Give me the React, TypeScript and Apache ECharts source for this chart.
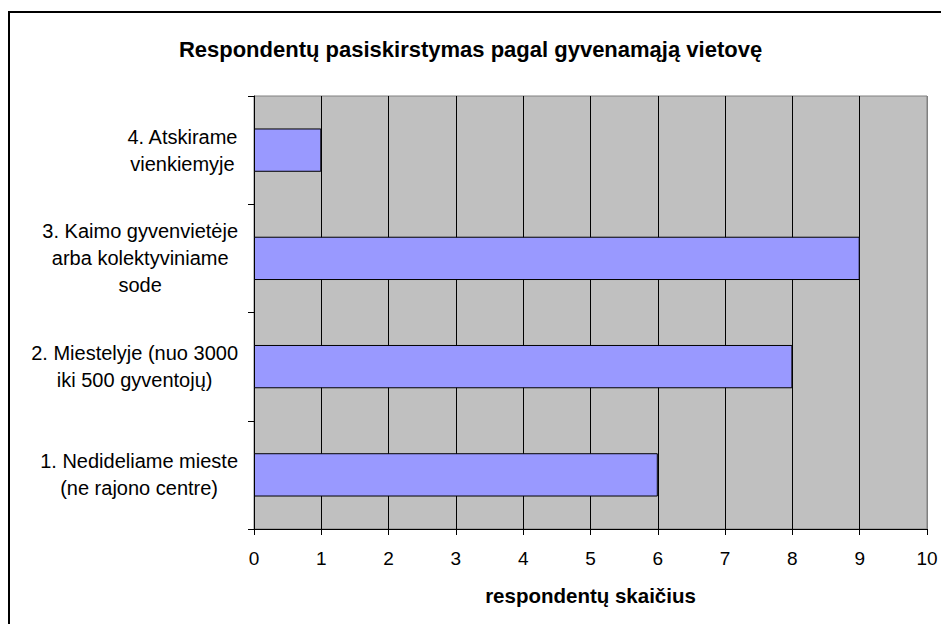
import React, { useEffect, useRef } from "react";
import * as echarts from "echarts";

const titleText = "Respondentų pasiskirstymas pagal gyvenamąją vietovę";
const xAxisTitle = "respondentų skaičius";
const categories = [
  "1. Nedideliame mieste\n(ne rajono centre)",
  "2. Miestelyje (nuo 3000\niki 500 gyventojų)",
  "3. Kaimo gyvenvietėje\narba kolektyviniame\nsode",
  "4. Atskirame\nvienkiemyje",
];
const values = [6, 8, 9, 1];
const xTicks = [0, 1, 2, 3, 4, 5, 6, 7, 8, 9, 10];

const FONT = "'Liberation Sans', Arial, sans-serif";

export default function App() {
  const ref = useRef<HTMLDivElement>(null);
  useEffect(() => {
    if (!ref.current) return;
    const chart = echarts.init(ref.current, undefined, { renderer: "svg" });
    const gridColors = xTicks.map((t, i) => (i === xTicks.length - 1 ? "#808080" : "#000000"));
    chart.setOption({
      animation: false,
      backgroundColor: "#ffffff",
      textStyle: { fontFamily: FONT },
      title: {
        text: titleText,
        left: "center",
        top: 33,
        textStyle: { fontFamily: FONT, fontSize: 22, fontWeight: "bold", color: "#000" },
      },
      graphic: [
        {
          type: "rect",
          shape: { x: 9, y: 12, width: 1000, height: 1000 },
          style: { fill: "none", stroke: "#000", lineWidth: 2 },
          silent: true,
          z: 100,
        },
      ],
      grid: {
        left: 254,
        right: 14,
        top: 96,
        bottom: 95,
        show: true,
        backgroundColor: "#C0C0C0",
        borderColor: "#808080",
        borderWidth: 1,
      },
      xAxis: {
        type: "value",
        min: xTicks[0],
        max: xTicks[xTicks.length - 1],
        interval: 1,
        name: xAxisTitle,
        nameLocation: "middle",
        nameGap: 56,
        nameTextStyle: { fontFamily: FONT, fontSize: 20.5, fontWeight: "bold", color: "#000" },
        axisLine: { show: true, lineStyle: { color: "#000", width: 1 } },
        axisTick: { show: true, length: 6, lineStyle: { color: "#000" } },
        axisLabel: { fontFamily: FONT, fontSize: 19, color: "#000", margin: 20 },
        splitLine: { show: true, lineStyle: { color: gridColors, width: 1 } },
      },
      yAxis: {
        type: "category",
        data: categories,
        axisLine: { show: true, lineStyle: { color: "#000", width: 1 } },
        axisTick: { show: true, length: 6, lineStyle: { color: "#000" } },
        axisLabel: {
          fontFamily: FONT,
          fontSize: 20,
          color: "#000",
          margin: 16,
          align: "right",
          formatter: (v: string) =>
            v
              .split("\n")
              .map((l) => `{c|${l}}`)
              .join("\n"),
          rich: {
            c: { align: "center", fontFamily: FONT, fontSize: 20, lineHeight: 27, color: "#000" },
          },
        },
        splitLine: { show: false },
      },
      series: [
        {
          type: "bar",
          data: values,
          barWidth: "40%",
          itemStyle: { color: "#9999FF", borderColor: "#000", borderWidth: 1 },
        },
      ],
    });
    return () => chart.dispose();
  }, []);
  return (
    <div
      ref={ref}
      style={{ position: "absolute", left: 0, top: 0, width: 941, height: 624 }}
    />
  );
}
